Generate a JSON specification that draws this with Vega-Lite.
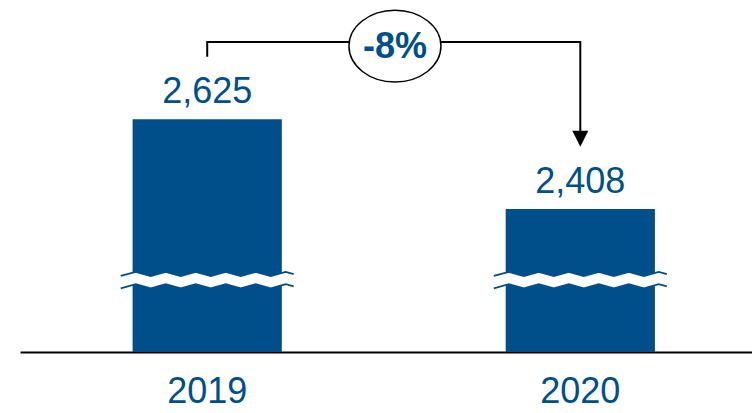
{
  "$schema": "https://vega.github.io/schema/vega-lite/v6.json",
  "width": 732,
  "height": 352,
  "autosize": {"type": "none"},
  "padding": {"left": 20, "top": 0, "right": 0, "bottom": 61},
  "background": "white",
  "config": {"view": {"stroke": null}, "font": "Liberation Sans"},
  "datasets": {
    "main": [
      {"year": "2019", "value": 2625},
      {"year": "2020", "value": 2408}
    ],
    "bracket": [
      {"year": "2019", "level": 2776, "step": 1},
      {"year": "2019", "level": 2812, "step": 2},
      {"year": "2020", "level": 2812, "step": 3},
      {"year": "2020", "level": 2587, "step": 4}
    ],
    "change": [
      {"year": "2019", "label": "-8%"}
    ]
  },
  "encoding": {
    "x": {
      "field": "year",
      "type": "nominal",
      "scale": {"paddingInner": 0.6, "paddingOuter": 0.281, "align": 0.537},
      "axis": {
        "title": null,
        "labelAngle": 0,
        "labelFontSize": 36,
        "labelColor": "#004F8B",
        "labelFont": "Liberation Sans",
        "labelPadding": 22,
        "ticks": false,
        "tickSize": 0,
        "domain": true,
        "domainColor": "#000000",
        "domainWidth": 2,
        "grid": false
      }
    }
  },
  "layer": [
    {
      "data": {"name": "main"},
      "mark": {"type": "bar", "color": "#004F8B"},
      "encoding": {
        "y": {
          "field": "value",
          "type": "quantitative",
          "scale": {"domain": [2062, 2913.5], "zero": false, "nice": false},
          "axis": null
        },
        "y2": {"datum": 2062}
      }
    },
    {
      "data": {"name": "main"},
      "mark": {
        "type": "point",
        "filled": true,
        "fill": "white",
        "strokeOpacity": 0,
        "opacity": 1,
        "size": 29929,
        "shape": "M -1 -0.0477 L -0.8266 -0.0954 L -0.6532 -0.0477 L -0.4798 -0.0954 L -0.3064 -0.0477 L -0.1329 -0.0954 L 0.0405 -0.0477 L 0.2139 -0.0954 L 0.3873 -0.0477 L 0.5607 -0.0954 L 0.7341 -0.0477 L 0.9075 -0.0954 L 1 -0.07 L 1 0.0732 L 0.9075 0.0477 L 0.7341 0.0954 L 0.5607 0.0477 L 0.3873 0.0954 L 0.2139 0.0477 L 0.0405 0.0954 L -0.1329 0.0477 L -0.3064 0.0954 L -0.4798 0.0477 L -0.6532 0.0954 L -0.8266 0.0477 L -1 0.0954 Z"
      },
      "encoding": {
        "y": {"datum": 2236, "type": "quantitative"}
      }
    },
    {
      "data": {"name": "main"},
      "mark": {
        "type": "point",
        "filled": false,
        "stroke": "#004F8B",
        "strokeWidth": 1.8,
        "opacity": 1,
        "size": 29929,
        "shape": "M -1 -0.0477 L -0.8266 -0.0954 L -0.6532 -0.0477 L -0.4798 -0.0954 L -0.3064 -0.0477 L -0.1329 -0.0954 L 0.0405 -0.0477 L 0.2139 -0.0954 L 0.3873 -0.0477 L 0.5607 -0.0954 L 0.7341 -0.0477 L 0.9075 -0.0954 L 1 -0.07 M -1 0.0954 L -0.8266 0.0477 L -0.6532 0.0954 L -0.4798 0.0477 L -0.3064 0.0954 L -0.1329 0.0477 L 0.0405 0.0954 L 0.2139 0.0477 L 0.3873 0.0954 L 0.5607 0.0477 L 0.7341 0.0954 L 0.9075 0.0477 L 1 0.0732"
      },
      "encoding": {
        "y": {"datum": 2236, "type": "quantitative"}
      }
    },
    {
      "data": {"name": "main"},
      "mark": {
        "type": "text",
        "baseline": "alphabetic",
        "align": "center",
        "dy": -16,
        "fontSize": 36,
        "font": "Liberation Sans",
        "color": "#004F8B"
      },
      "encoding": {
        "y": {"field": "value", "type": "quantitative"},
        "text": {"field": "value", "type": "quantitative", "format": ","}
      }
    },
    {
      "data": {"name": "bracket"},
      "mark": {"type": "line", "color": "#000000", "strokeWidth": 2, "strokeJoin": "miter", "strokeCap": "butt"},
      "encoding": {
        "y": {"field": "level", "type": "quantitative"},
        "order": {"field": "step", "type": "quantitative"}
      }
    },
    {
      "data": {"name": "change"},
      "mark": {
        "type": "point",
        "filled": true,
        "fill": "#000000",
        "strokeOpacity": 0,
        "opacity": 1,
        "size": 256,
        "shape": "M -1 -1 L 1 -1 L 0 1 Z"
      },
      "encoding": {
        "x": {"datum": "2020"},
        "y": {"datum": 2578, "type": "quantitative"}
      }
    },
    {
      "data": {"name": "change"},
      "mark": {
        "type": "point",
        "filled": true,
        "fill": "white",
        "stroke": "#000000",
        "strokeWidth": 1.5,
        "opacity": 1,
        "size": 8464,
        "shape": "M -1 0 C -1 -0.431 -0.5523 -0.78 0 -0.78 C 0.5523 -0.78 1 -0.431 1 0 C 1 0.431 0.5523 0.78 0 0.78 C -0.5523 0.78 -1 0.431 -1 0 Z"
      },
      "encoding": {
        "x": {"field": "year", "type": "nominal", "bandPosition": 1.758},
        "y": {"datum": 2802, "type": "quantitative"}
      }
    },
    {
      "data": {"name": "change"},
      "mark": {
        "type": "text",
        "baseline": "middle",
        "align": "center",
        "fontSize": 36,
        "fontWeight": "bold",
        "font": "Liberation Sans",
        "color": "#004F8B",
        "dy": 1
      },
      "encoding": {
        "x": {"field": "year", "type": "nominal", "bandPosition": 1.758},
        "y": {"datum": 2802, "type": "quantitative"},
        "text": {"field": "label"}
      }
    }
  ]
}
